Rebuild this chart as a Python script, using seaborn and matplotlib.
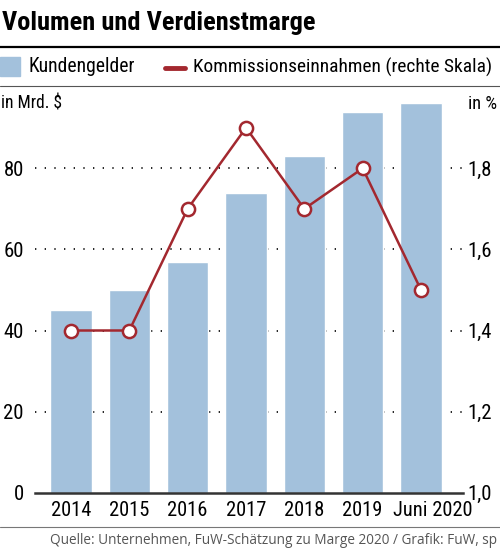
import numpy as np
import pandas as pd
import matplotlib
matplotlib.use("Agg")
import matplotlib.pyplot as plt
import matplotlib.transforms as mtransforms
from matplotlib import font_manager
import seaborn as sns

jahre = ['2014', '2015', '2016', '2017', '2018', '2019', 'Juni 2020']
kundengelder = [45, 50, 57, 74, 83, 94, 96]          # in Mrd. $
kommission = [1.4, 1.4, 1.7, 1.9, 1.7, 1.8, 1.5]     # in %
links_ticks = [0, 20, 40, 60, 80]
rechts_ticks = [1.0, 1.2, 1.4, 1.6, 1.8]

blau = '#a3c1dc'
rot = '#a3282f'

# schmale Schrift, falls vorhanden
namen = {f.name for f in font_manager.fontManager.ttflist}
schmal = 'Roboto'
for kandidat in ['Liberation Sans Narrow', 'Roboto Condensed', 'Roboto']:
    if kandidat in namen:
        schmal = kandidat
        break
cond = [schmal, 'DejaVu Sans']
k = 1.0 if schmal == 'Roboto' else 1.15   # narrow fonts can be a bit bigger

sns.set_style('white')
plt.rcParams['font.family'] = cond
plt.rcParams['text.color'] = 'black'
plt.rcParams['xtick.color'] = 'black'
plt.rcParams['ytick.color'] = 'black'

df = pd.DataFrame({'jahr': jahre, 'wert': kundengelder})

fig = plt.figure(figsize=(5.0, 5.52), dpi=100)
ax = fig.add_axes([35 / 500, 1 - 492.7 / 552, 428 / 500, 405.5 / 552])

sns.barplot(data=df, x='jahr', y='wert', color=blau, width=0.71,
            saturation=1, ax=ax, zorder=2)
ax.set_xlim(-0.617, 6.72)
ax.set_ylim(0, 100)
ax.set_yticks(links_ticks)
ax.set_yticklabels([str(t) for t in links_ticks])
ax.set_xlabel('')
ax.set_ylabel('')
for g in links_ticks[1:]:
    ax.axhline(g, color='black', lw=1.2, dashes=(0.8, 5), zorder=1)
for s in ['top', 'left', 'right']:
    ax.spines[s].set_visible(False)
ax.spines['bottom'].set_color('#333333')
ax.spines['bottom'].set_linewidth(1.8)
ax.spines['bottom'].set_zorder(3)
ax.tick_params(axis='y', length=0, pad=8, labelsize=13 * k)
ax.tick_params(axis='x', length=0, pad=6, labelsize=12.8 * k)
lbl = ax.get_xticklabels()[-1]
lbl.set_transform(lbl.get_transform() + mtransforms.ScaledTranslation(12 / 100, 0, fig.dpi_scale_trans))

ax2 = ax.twinx()
sns.lineplot(x=np.arange(len(jahre)), y=kommission, ax=ax2, color=rot, lw=1.8,
             marker='o', markersize=9.5, markerfacecolor='white',
             markeredgecolor=rot, markeredgewidth=1.8, zorder=5)
ax2.set_ylim(1.0, 2.0)
ax2.set_yticks(rechts_ticks)
ax2.set_yticklabels([f'{t:.1f}'.replace('.', ',') for t in rechts_ticks])
for s in ['top', 'left', 'right', 'bottom']:
    ax2.spines[s].set_visible(False)
ax2.tick_params(axis='y', length=0, pad=3, labelsize=13 * k)
ax2.set_xlim(-0.617, 6.72)

# Kopf
fig.text(2 / 500, 1 - 23 / 552, 'Volumen und Verdienstmarge', fontsize=16.5 * k,
         fontweight='bold', va='center', ha='left', family=cond)
fig.add_artist(plt.Line2D([0, 1], [1 - 47 / 552] * 2, color='black', lw=1.6))
fig.add_artist(plt.Rectangle((0, 1 - 76 / 552), 20 / 500, 19 / 552, color=blau))
fig.text(28 / 500, 1 - 67 / 552, 'Kundengelder', fontsize=12.3 * k, va='center', family=cond)
fig.add_artist(plt.Line2D([165 / 500, 185 / 500], [1 - 68 / 552] * 2, color=rot, lw=3.5))
fig.text(193 / 500, 1 - 67 / 552, 'Kommissionseinnahmen (rechte Skala)', fontsize=12.1 * k,
         va='center', family=cond)
fig.add_artist(plt.Line2D([0, 1], [1 - 86 / 552] * 2, color='#555555', lw=0.8))
fig.text(1 / 500, 1 - 104 / 552, 'in Mrd. $', fontsize=11 * k, va='center', family=cond)
fig.text(497 / 500, 1 - 104 / 552, 'in %', fontsize=11.5 * k, va='center', ha='right', family=cond)

# Fuss
fig.add_artist(plt.Line2D([0, 1], [1 - 527 / 552] * 2, color='#777777', lw=0.8))
fig.text(50 / 500, 1 - 541 / 552,
         'Quelle: Unternehmen, FuW-Schätzung zu Marge 2020 / Grafik: FuW, sp',
         fontsize=9.8, color='#555555', va='center', family=['Open Sans', 'DejaVu Sans'])

fig.savefig('out.png', dpi=100)
